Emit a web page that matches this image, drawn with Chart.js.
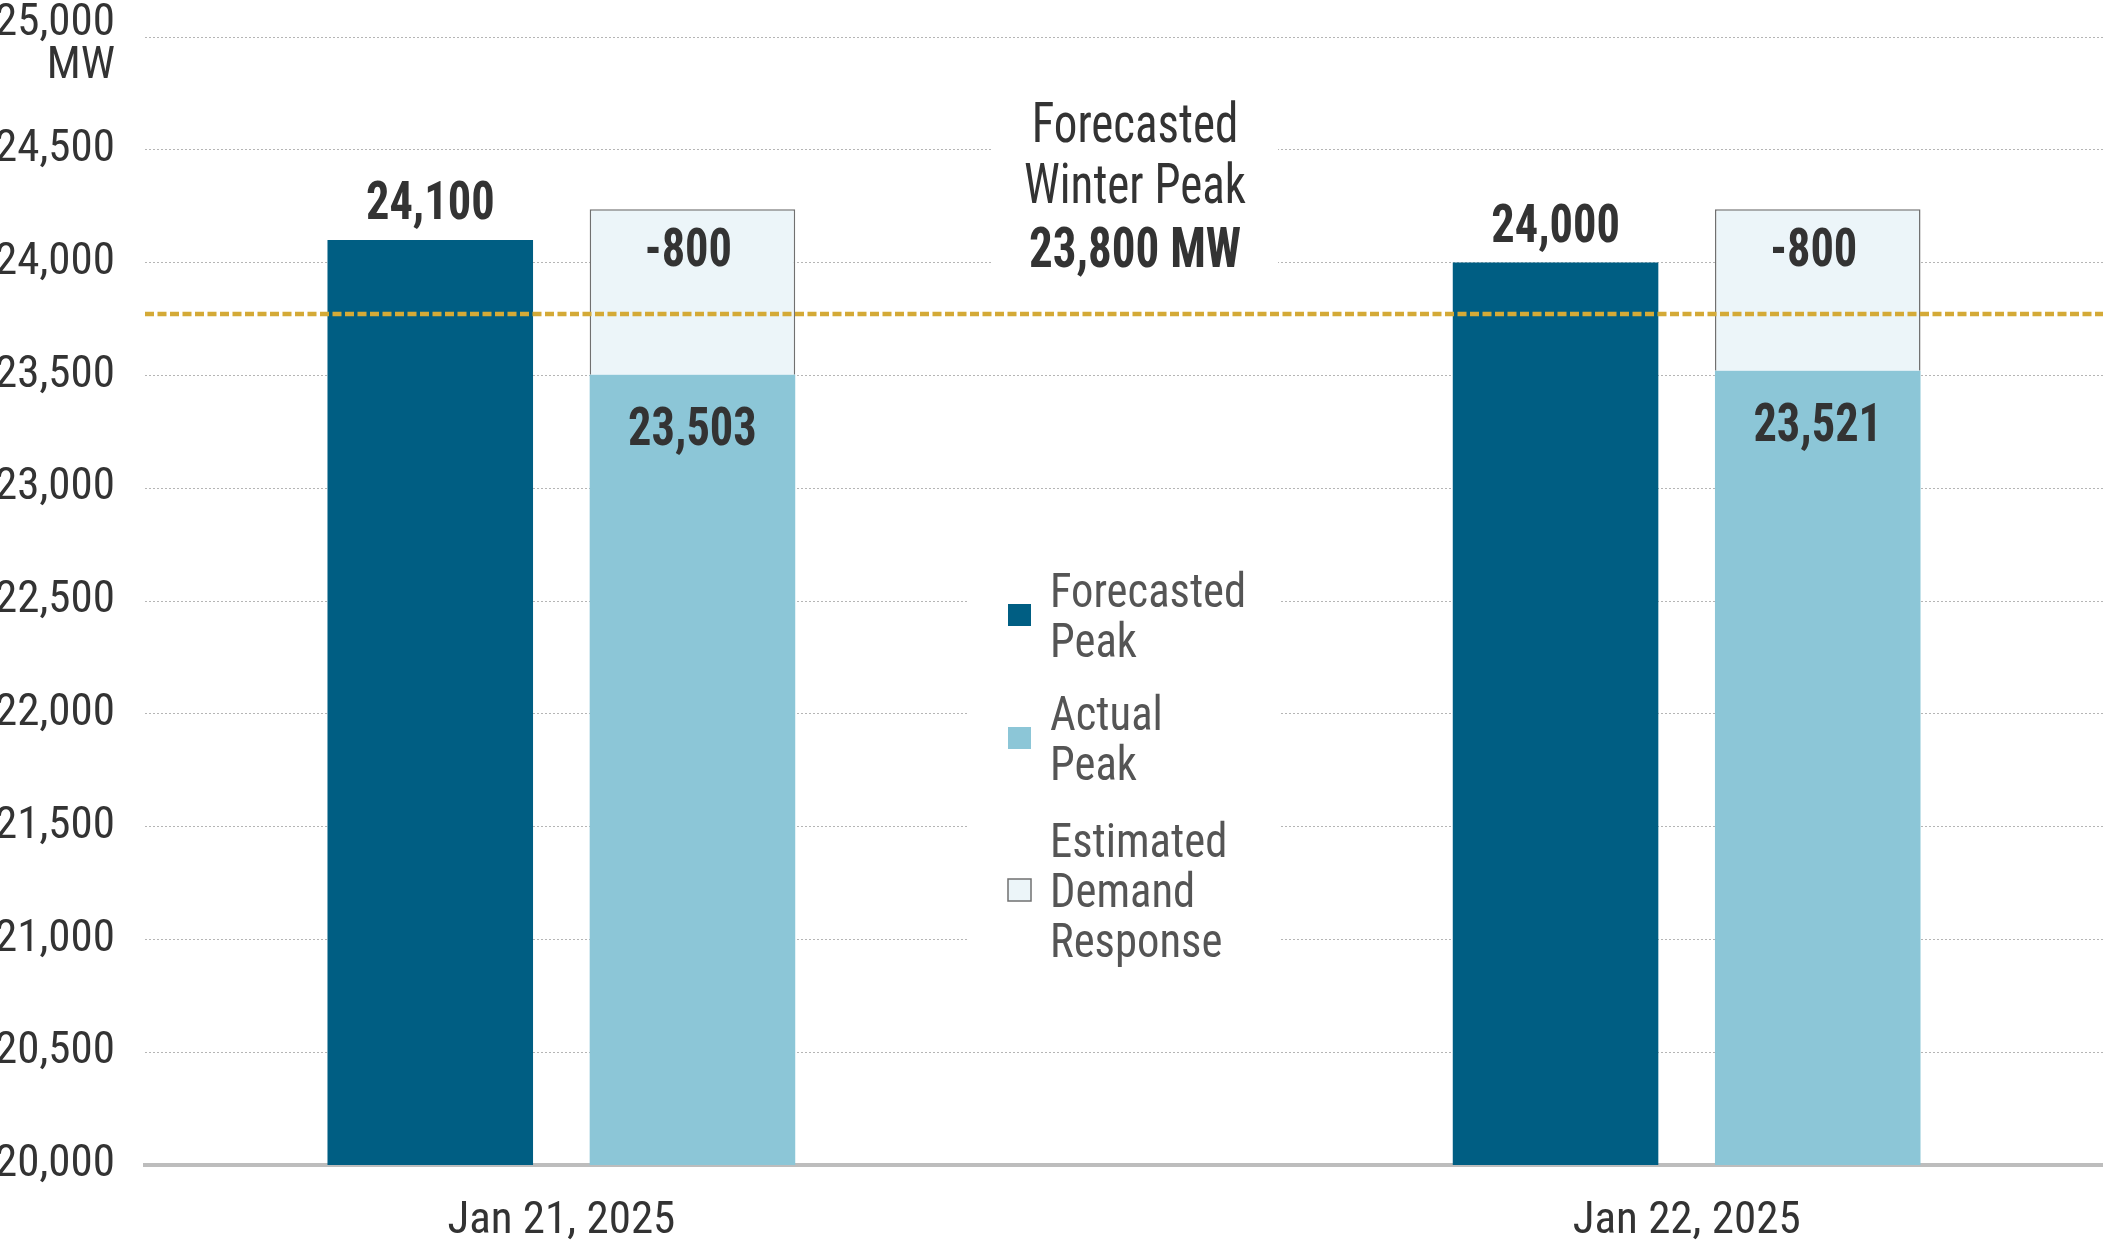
<!DOCTYPE html>
<html>
<head>
<meta charset="utf-8">
<script src="https://cdn.jsdelivr.net/npm/chart.js@4.4.1/dist/chart.umd.min.js"></script>
<style>
  html, body { margin: 0; padding: 0; background: #fff; }
  #wrap { width: 2103px; height: 1257px; position: relative; }
</style>
</head>
<body>
<div id="wrap"><canvas id="peakChart"></canvas></div>
<script>
// values
const categories = ['Jan 21, 2025', 'Jan 22, 2025'];
const forecastPeak = [24100, 24000];
const actualPeak = [23503, 23521];
const demandResponse = [-800, -800];          // printed value
const demandResponseTop = [24237, 24237];     // where the box tops out on the drawing
const winterPeak = 23772;                     // dashed line as drawn
const winterPeakText = ['Forecasted', 'Winter Peak', '23,800 MW'];
const yMin = 20000, yMax = 25000, yStep = 500;
const yUnit = 'MW';
const legendLines = [['Forecasted', 'Peak'], ['Actual', 'Peak'], ['Estimated', 'Demand', 'Response']];

const FONT = '"Roboto Condensed", Roboto, sans-serif';
Chart.defaults.font.family = FONT;

function fmt(v) {
    return Number(v).toLocaleString('en-US');
}

// the source font is narrower than Roboto Condensed, so squeeze drawn text a bit
function squeezeText(ctx, text, x, y, sx) {
    ctx.save();
    ctx.translate(x, y);
    ctx.scale(sx, 1);
    ctx.fillText(text, 0, 0);
    ctx.restore();
}

const overlay = {
    id: 'overlay',
    beforeDraw: function (chart) {
        // push the two-line "25,000 / MW" label down so it isn't cut off
        const y = chart.scales.y;
        y.getLabelItems(chart.chartArea).forEach(function (item) {
            if (Array.isArray(item.label)) {
                item.options.translation[1] += 8;
            }
        });
    },
    beforeDatasetsDraw: function (chart) {
        // white panels behind the note and the legend
        const ctx = chart.ctx;
        const mid = chart.scales.x.getPixelForValue(0.5);
        ctx.save();
        ctx.fillStyle = '#fff';
        ctx.fillRect(mid - 132, 60, 286, 235);
        ctx.fillRect(mid - 157, 540, 313, 460);
        ctx.restore();
    },
    afterDatasetsDraw: function (chart) {
        const ctx = chart.ctx;
        const area = chart.chartArea;
        const x = chart.scales.x, y = chart.scales.y;
        const mid = x.getPixelForValue(0.5);
        ctx.save();

        // forecasted winter peak line
        const py = y.getPixelForValue(winterPeak);
        ctx.strokeStyle = '#d4aa37';
        ctx.lineWidth = 4.5;
        ctx.setLineDash([9, 3.5]);
        ctx.beginPath();
        ctx.moveTo(area.left, py);
        ctx.lineTo(area.right, py);
        ctx.stroke();
        ctx.setLineDash([]);

        // bar values
        ctx.fillStyle = '#333';
        ctx.textAlign = 'center';
        ctx.textBaseline = 'alphabetic';
        ctx.font = '700 54px ' + FONT;
        const fMeta = chart.getDatasetMeta(0);
        const aMeta = chart.getDatasetMeta(1);
        const dMeta = chart.getDatasetMeta(2);
        fMeta.data.forEach(function (bar, i) {
            squeezeText(ctx, fmt(forecastPeak[i]), bar.x, bar.y - 21, 0.86);
        });
        dMeta.data.forEach(function (bar, i) {
            squeezeText(ctx, fmt(demandResponse[i]), bar.x - 4, bar.y + 57, 0.86);
        });
        aMeta.data.forEach(function (bar, i) {
            squeezeText(ctx, fmt(actualPeak[i]), bar.x, bar.y + 70, 0.86);
        });

        // note
        const cx = mid + 11;
        ctx.font = '400 56px ' + FONT;
        squeezeText(ctx, winterPeakText[0], cx, 142, 0.84);
        squeezeText(ctx, winterPeakText[1], cx, 203, 0.84);
        ctx.font = '700 56px ' + FONT;
        squeezeText(ctx, winterPeakText[2], cx, 267, 0.84);

        // legend
        const firstLine = [607, 730, 857];
        ctx.textAlign = 'left';
        ctx.font = '400 48px ' + FONT;
        chart.data.datasets.forEach(function (ds, i) {
            const lines = legendLines[i];
            const top = firstLine[i] - 34;
            const bottom = firstLine[i] + (lines.length - 1) * 50;
            const sy = (top + bottom) / 2 - 11;
            ctx.fillStyle = ds.backgroundColor;
            ctx.fillRect(mid - 116, sy, 23, 22);
            if (ds.borderWidth) {
                ctx.strokeStyle = ds.borderColor;
                ctx.lineWidth = 1.5;
                ctx.strokeRect(mid - 116, sy, 23, 22);
            }
            ctx.fillStyle = '#555';
            lines.forEach(function (t, k) {
                squeezeText(ctx, t, mid - 74, firstLine[i] + k * 50, 0.93);
            });
        });
        ctx.restore();
    }
};

const ctx = document.getElementById('peakChart').getContext('2d');
const peakChart = new Chart(ctx, {
    type: 'bar',
    data: {
        datasets: [{
            label: legendLines[0].join(' '),
            data: forecastPeak.map(function (v, i) { return { x: i, y: v }; }),
            backgroundColor: '#005e83',
            stack: 'forecast'
        }, {
            label: legendLines[1].join(' '),
            data: actualPeak.map(function (v, i) { return { x: i, y: v }; }),
            backgroundColor: '#8cc6d7',
            stack: 'actual'
        }, {
            label: legendLines[2].join(' '),
            data: demandResponseTop.map(function (v, i) { return { x: i, y: v - actualPeak[i] }; }),
            backgroundColor: '#ecf5f9',
            borderColor: '#707070',
            borderWidth: 1.5,
            borderSkipped: 'bottom',
            stack: 'actual'
        }]
    },
    options: {
        responsive: true,
        maintainAspectRatio: false,
        animation: false,
        layout: { padding: { top: 37, left: 0, right: 0, bottom: 0 } },
        datasets: {
            bar: { categoryPercentage: 0.466, barPercentage: 0.784 }
        },
        plugins: {
            legend: { display: false },
            tooltip: { enabled: false }
        },
        scales: {
            x: {
                type: 'linear',
                offset: false,
                min: -0.37,
                max: 1.37,
                grid: { display: false },
                border: { display: true, color: '#bdbdbd', width: 4 },
                ticks: {
                    color: '#333',
                    font: { size: 45 },
                    padding: 22,
                    callback: function (v) { return categories[v]; }
                },
                afterBuildTicks: function (scale) {
                    scale.ticks = categories.map(function (c, i) { return { value: i }; });
                },
                afterFit: function (scale) {
                    scale.height = 92;
                    scale.paddingLeft = 0;
                    scale.paddingRight = 0;
                }
            },
            y: {
                stacked: true,
                min: yMin,
                max: yMax,
                grid: { color: '#b5b5b5', lineWidth: 1, drawTicks: false },
                border: { display: false, dash: [2, 2] },
                ticks: {
                    stepSize: yStep,
                    color: '#333',
                    font: { size: 45, lineHeight: 0.95 },
                    padding: 30,
                    callback: function (v) {
                        return v === yMax ? [fmt(v), yUnit] : fmt(v);
                    }
                },
                afterFit: function (scale) {
                    scale.width = 145;
                    scale.paddingTop = 0;
                    scale.paddingBottom = 0;
                }
            }
        }
    },
    plugins: [overlay]
});
</script>
</body>
</html>
